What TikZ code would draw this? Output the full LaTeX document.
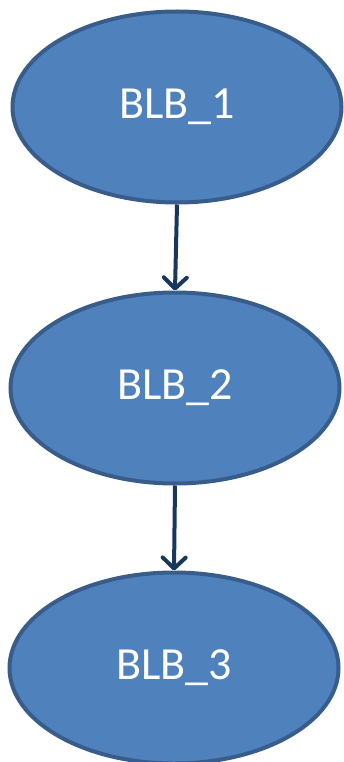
\documentclass[tikz,border=0pt]{standalone}
\usepackage{fontspec}
\setmainfont{Carlito}
\usetikzlibrary{shapes.geometric,arrows.meta}
\definecolor{fillblue}{HTML}{4F81BD}
\definecolor{edgeblue}{HTML}{385D8A}
\definecolor{arrowblue}{HTML}{17375E}
\tikzset{
  blob/.style={ellipse, draw=edgeblue, fill=fillblue, line width=4pt,
    minimum width=329pt, minimum height=191pt, inner sep=0pt,
    text=white, font=\fontsize{46}{55}\selectfont},
  link/.style={draw=arrowblue, line width=4pt,
    -{Straight Barb[length=11pt, width=23pt, line width=4pt, round]}}
}
\begin{document}
\begin{tikzpicture}[x=1pt,y=1pt]
\useasboundingbox (0,0) rectangle (343,-762);
\node[blob] (b1) at (177,-107) {BLB\_1};
\node[blob] (b2) at (175,-388) {BLB\_2};
\node[blob] (b3) at (174,-668) {BLB\_3};
\draw[link] (b1.south) -- (b2.north);
\draw[link] (b2.south) -- (b3.north);
\end{tikzpicture}
\end{document}
